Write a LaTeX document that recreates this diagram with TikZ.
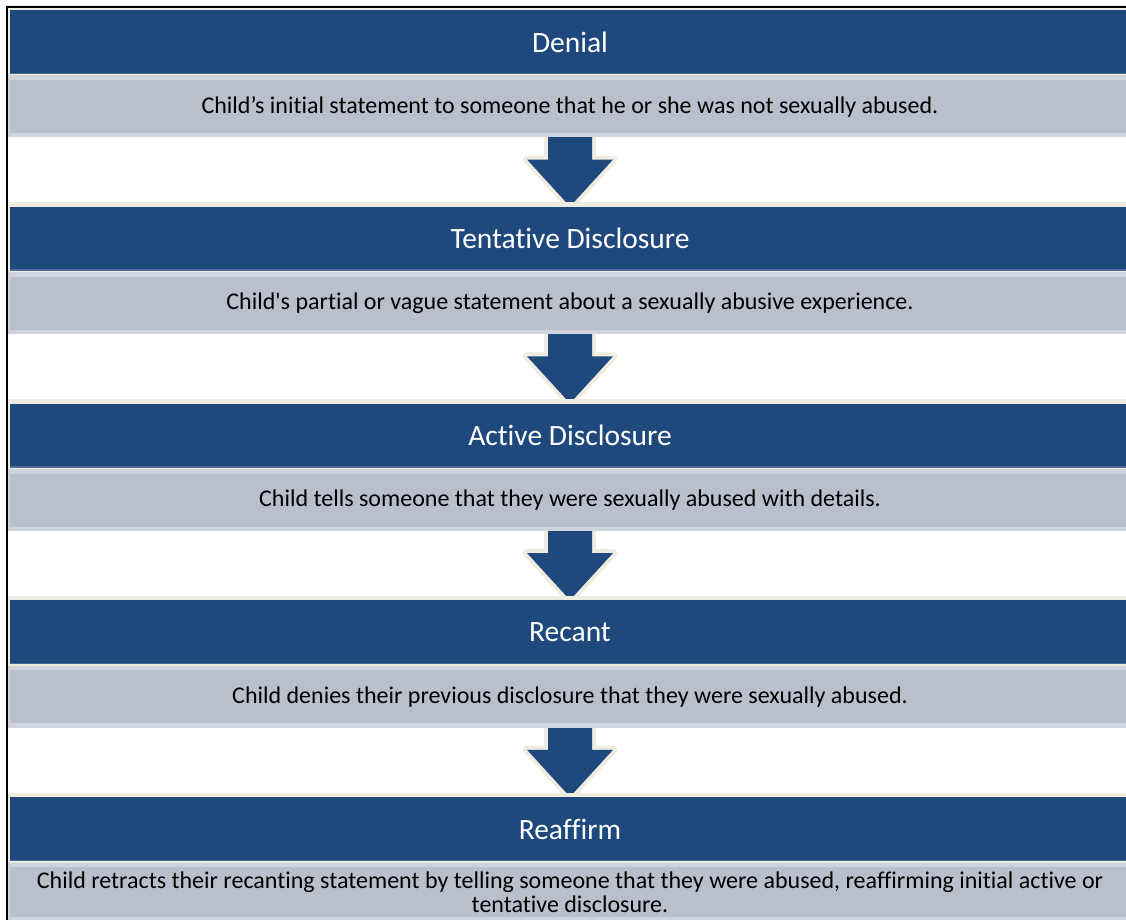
\documentclass[tikz,border=0pt]{standalone}
\usepackage{fontspec}
\setmainfont{Carlito}[Ligatures={TeX,NoCommon}]
\usetikzlibrary{positioning,calc}
\definecolor{hdr}{HTML}{1F497D}
\definecolor{hdredge}{HTML}{4D6D98}
\definecolor{band}{HTML}{B9C0CC}
\definecolor{bandedge}{HTML}{CFD3DB}
\definecolor{cream}{HTML}{EEECE1}
\pgfdeclarelayer{back}
\pgfsetlayers{back,main}
\tikzset{
  headbox/.style={fill=hdr,preaction={draw=cream,line width=9},
    minimum width=1120,minimum height=64,inner sep=0pt,text=white,
    font=\fontsize{29.5}{34}\selectfont},
  bandbox/.style={fill=band,preaction={draw=bandedge,line width=9},
    minimum width=1120,inner sep=0pt,align=center,text=black,
    font=\fontsize{24}{24}\selectfont},
  arrowbox/.style={fill=hdr,preaction={draw=cream,line width=8,line join=round}}}
% name, top, title, text; optional band height
\newcommand{\stage}[5][53]{%
  \node[headbox] (#2h) at (570,{#3+32}) {#4};
  \draw[hdredge,line width=1.5] ([yshift=0.75]#2h.south west) -- ([yshift=0.75]#2h.south east);
  \node[bandbox,minimum height=#1] (#2b) at (570,{#3+70+#1/2}) {#5};}
\newcommand{\stagearrow}[2]{%
  \path[arrowbox] ($(#1.south)+(-22,-6)$) -- ($(#1.south)+(22,-6)$)
    -- ($(#2.north)+(22,-47)$) -- ($(#2.north)+(43,-47)$) -- (#2.north)
    -- ($(#2.north)+(-43,-47)$) -- ($(#2.north)+(-22,-47)$) -- cycle;}

\begin{document}
\begin{tikzpicture}[x=1pt,y=-1pt]
  \path[use as bounding box] (0,0) rectangle (1126,920);
  \stage{den}{10}{Denial}
    {Child’s initial statement to someone that he or she was not sexually abused.}
  \stage{ten}{206.75}{Tentative Disclosure}
    {Child\textquotesingle s partial or vague statement about a sexually abusive experience.}
  \stage{act}{403.5}{Active Disclosure}
    {Child tells someone that they were sexually abused with details.}
  \stage{rec}{600.25}{Recant}
    {Child denies their previous disclosure that they were sexually abused.}
  \stage[50]{rea}{797}{Reaffirm}
    {Child retracts their recanting statement by telling someone that they were abused, reaffirming initial active or\\
     tentative disclosure.}
  \begin{pgfonlayer}{back}
    \stagearrow{denb}{tenh}
    \stagearrow{tenb}{acth}
    \stagearrow{actb}{rech}
    \stagearrow{recb}{reah}
  \end{pgfonlayer}
  % frame
  \draw[line width=2] (6.5,920) -- (6.5,7) -- (1126,7);
\end{tikzpicture}
\end{document}
